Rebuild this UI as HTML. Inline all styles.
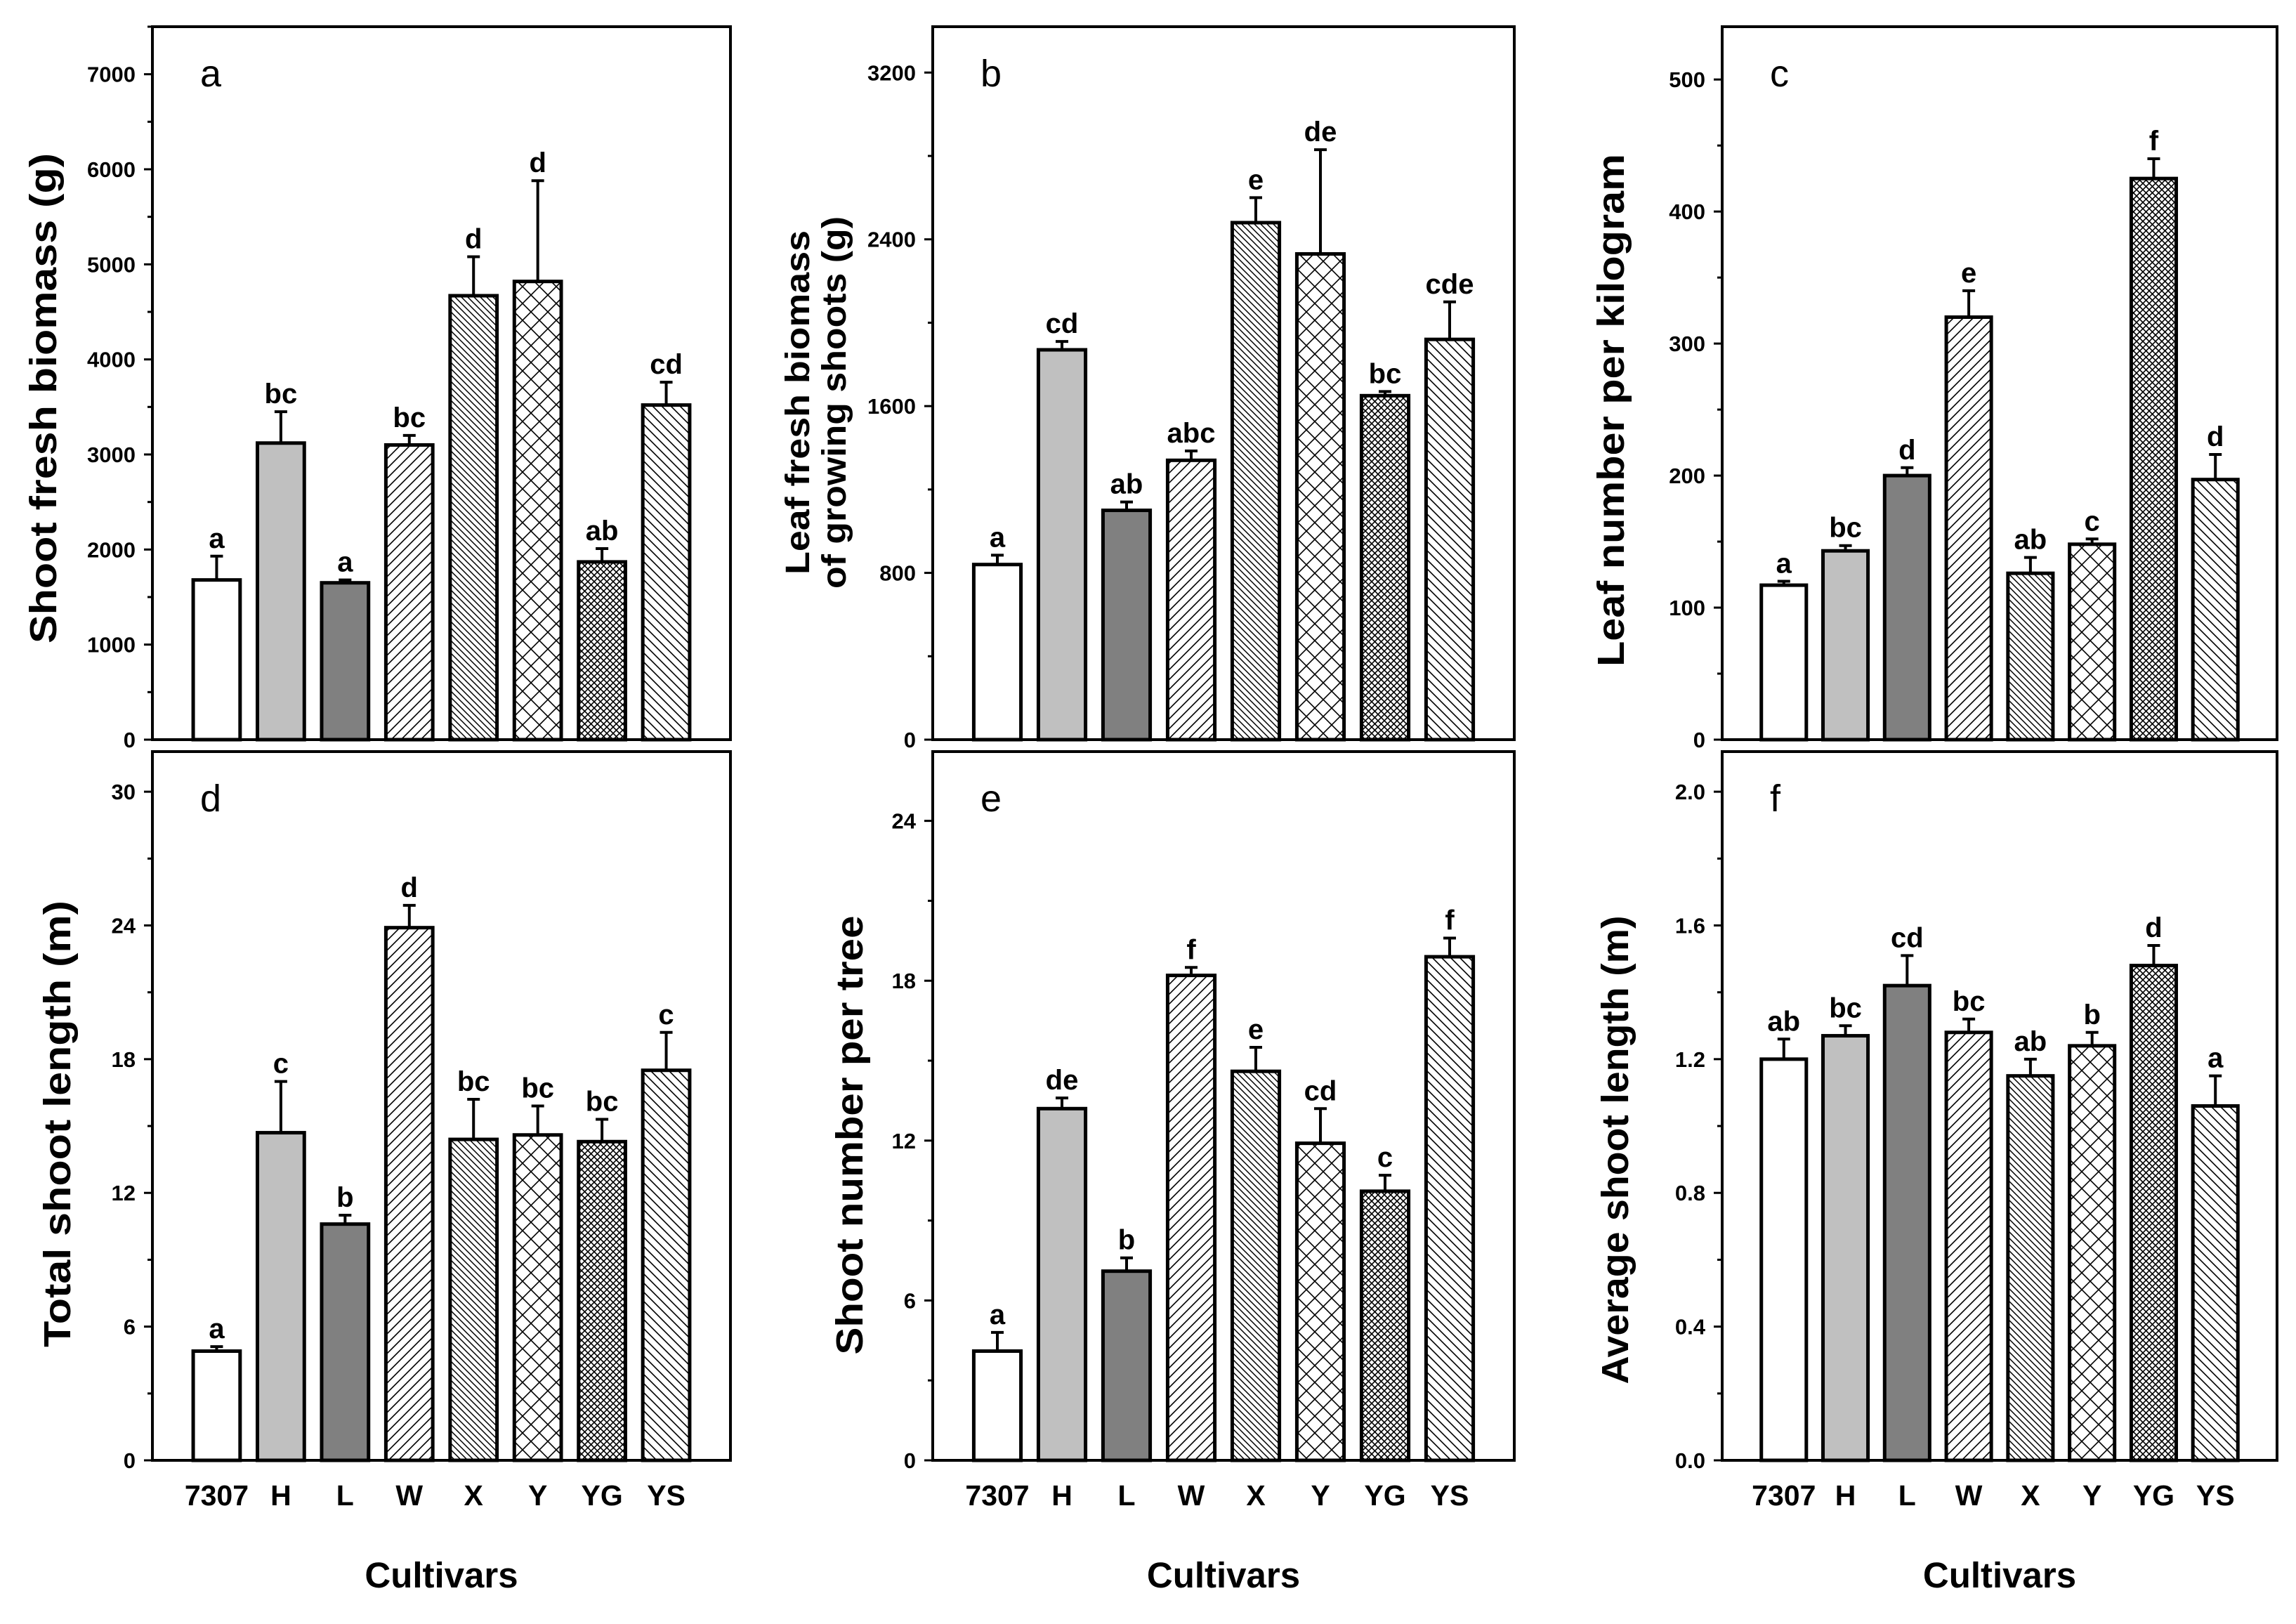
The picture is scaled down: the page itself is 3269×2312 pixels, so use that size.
<!DOCTYPE html>
<html><head><meta charset="utf-8"><style>
html,body{margin:0;padding:0;background:#fff}
svg{display:block}
text{font-family:"Liberation Sans",Arial,sans-serif}
</style></head><body>
<svg id="fig" xmlns="http://www.w3.org/2000/svg" width="3269" height="2312" viewBox="0 0 3269 2312">
<defs>
<pattern id="p-w" patternUnits="userSpaceOnUse" width="14" height="14"><rect width="14" height="14" fill="#fff"/><path d="M-2,16 L16,-2 M-2,2 L2,-2 M12,16 L16,12" stroke="#000" stroke-width="1.6"/></pattern>
<pattern id="p-x" patternUnits="userSpaceOnUse" width="9" height="9"><rect width="9" height="9" fill="#fff"/><path d="M-2,-2 L11,11 M-2,7 L2,11 M7,-2 L11,2" stroke="#000" stroke-width="1.5"/></pattern>
<pattern id="p-ys" patternUnits="userSpaceOnUse" width="13" height="13"><rect width="13" height="13" fill="#fff"/><path d="M-2,-2 L15,15 M-2,11 L2,15 M11,-2 L15,2" stroke="#000" stroke-width="1.6"/></pattern>
<pattern id="p-y" patternUnits="userSpaceOnUse" width="24" height="24"><rect width="24" height="24" fill="#fff"/><path d="M0,0 L24,24 M24,0 L0,24" stroke="#000" stroke-width="1.6"/></pattern>
<pattern id="p-yg" patternUnits="userSpaceOnUse" width="9" height="9"><rect width="9" height="9" fill="#fff"/><path d="M0,0 L9,9 M9,0 L0,9" stroke="#000" stroke-width="1.6"/></pattern>
</defs>
</svg>
<script>
const cultivars=["7307","H","L","W","X","Y","YG","YS"];
const fills=["#ffffff","#c0c0c0","#808080","url(#p-w)","url(#p-x)","url(#p-y)","url(#p-yg)","url(#p-ys)"];
const valsA=[1680,3120,1650,3100,4670,4820,1870,3520];
const errA=[250,330,30,100,410,1060,140,240];
const letA=["a","bc","a","bc","d","d","ab","cd"];
const valsB=[840,1870,1100,1340,2480,2330,1650,1920];
const errB=[45,40,40,45,120,500,20,180];
const letB=["a","cd","ab","abc","e","de","bc","cde"];
const valsC=[117,143,200,320,126,148,425,197];
const errC=[3,4,6,20,12,4,15,19];
const letC=["a","bc","d","e","ab","c","f","d"];
const valsD=[4.9,14.7,10.6,23.9,14.4,14.6,14.3,17.5];
const errD=[0.2,2.3,0.4,1.0,1.8,1.3,1.0,1.7];
const letD=["a","c","b","d","bc","bc","bc","c"];
const valsE=[4.1,13.2,7.1,18.2,14.6,11.9,10.1,18.9];
const errE=[0.7,0.4,0.5,0.3,0.9,1.3,0.6,0.7];
const letE=["a","de","b","f","e","cd","c","f"];
const valsF=[1.20,1.27,1.42,1.28,1.15,1.24,1.48,1.06];
const errF=[0.06,0.03,0.09,0.04,0.05,0.04,0.06,0.09];
const letF=["ab","bc","cd","bc","ab","b","d","a"];
const ticksA=[0,1000,2000,3000,4000,5000,6000,7000];
const ticksB=[0,800,1600,2400,3200];
const ticksC=[0,100,200,300,400,500];
const ticksD=[0,6,12,18,24,30];
const ticksE=[0,6,12,18,24];
const ticksF=["0.0","0.4","0.8","1.2","1.6","2.0"];

const svg=document.getElementById('fig');
const NS="http://www.w3.org/2000/svg";
function mk(tag,attrs,parent){const e=document.createElementNS(NS,tag);for(const k in attrs)e.setAttribute(k,attrs[k]);(parent||svg).appendChild(e);return e;}

function panel(cfg){
  const g=mk('g',{});
  
  
  const {x0,x1,y0,y1,ymax}=cfg;
  const sx=v=>x0+(x1-x0)*v/9;
  const sy=v=>y1-(y1-y0)*v/ymax;
  cfg.vals.forEach((v,i)=>{
    const cx=sx(i+1), w=(x1-x0)*0.73/9;
    const top=sy(v+cfg.err[i]);
    const eb=mk('path',{d:`M${cx},${sy(v)} L${cx},${top} M${cx-9},${top} L${cx+9},${top}`,stroke:'#000','stroke-width':4,fill:'none'},g);
    
    
    const r=mk('rect',{x:cx-w/2,y:sy(v),width:w,height:sy(0)-sy(v),fill:fills[i],stroke:'#000','stroke-width':5},g);
    
    
    const t=mk('text',{x:cx,y:top-12,'text-anchor':'middle','font-size':40,'font-weight':'bold'},g);
    t.textContent=cfg.lets[i];
    
    
  });
  const fr=mk('rect',{x:x0,y:y0,width:x1-x0,height:y1-y0,fill:'none',stroke:'#000','stroke-width':4},g);
  
  
  const tv=cfg.ticks.map(Number);
  const step=tv[1]-tv[0];
  for(let v=0; v<=ymax+1e-9; v+=step/2){
    const major=Math.abs(Math.round(v/step)*step-v)<1e-9;
    const tk=mk('line',{x1:x0,x2:x0-(major?12:7),y1:sy(v),y2:sy(v),stroke:'#000','stroke-width':3},g);
    
    
  }
  cfg.ticks.forEach(lbl=>{
    const t=mk('text',{x:x0-24,y:sy(Number(lbl))+11,'text-anchor':'end','font-size':31,'font-weight':'bold'},g);
    t.textContent=lbl;
    
    
  });
  const pl=mk('text',{x:x0+68,y:y0+85,'font-size':54},g);
  pl.textContent=cfg.id;
  
  
  cfg.title.forEach((line,k)=>{
    const t=mk('text',{x:0,y:0,'text-anchor':'middle','font-size':cfg.tsize,'font-weight':cfg.tweight,
      transform:`translate(${line.x},${cfg.ty}) rotate(-90)`,textLength:line.len,lengthAdjust:'spacingAndGlyphs'},g);
    t.textContent=line.s;
    
    
  });
  if(cfg.xlabels){
    cultivars.forEach((c,i)=>{
      const t=mk('text',{x:sx(i+1),y:2143,'text-anchor':'middle','font-size':41,'font-weight':'bold'},g);
      t.textContent=c;
      
      
    });
    const t=mk('text',{x:(x0+x1)/2,y:2260,'text-anchor':'middle','font-size':51,'font-weight':'bold'},g);
    t.textContent='Cultivars';
    
    
  }
}
const TOP0=38,TOP1=1053,BOT0=1070,BOT1=2079;
panel({id:'a',x0:217,x1:1040,y0:TOP0,y1:TOP1,ymax:7500,vals:valsA,err:errA,lets:letA,ticks:ticksA.map(String),
  title:[{s:'Shoot fresh biomass (g)',x:80,len:698}],ty:567,tsize:54,tweight:'bold'});
panel({id:'b',x0:1328,x1:2156,y0:TOP0,y1:TOP1,ymax:3420,vals:valsB,err:errB,lets:letB,ticks:ticksB.map(String),
  title:[{s:'Leaf fresh biomass',x:1152,len:490},{s:'of growing shoots (g)',x:1204,len:530}],ty:573,tsize:48,tweight:'bold'});
panel({id:'c',x0:2452,x1:3242,y0:TOP0,y1:TOP1,ymax:540,vals:valsC,err:errC,lets:letC,ticks:ticksC.map(String),
  title:[{s:'Leaf number per kilogram',x:2312,len:730}],ty:584,tsize:54,tweight:'bold'});
panel({id:'d',x0:217,x1:1040,y0:BOT0,y1:BOT1,ymax:31.8,vals:valsD,err:errD,lets:letD,ticks:ticksD.map(String),
  title:[{s:'Total shoot length (m)',x:100,len:636}],ty:1600,tsize:54,tweight:'bold',xlabels:true});
panel({id:'e',x0:1328,x1:2156,y0:BOT0,y1:BOT1,ymax:26.6,vals:valsE,err:errE,lets:letE,ticks:ticksE.map(String),
  title:[{s:'Shoot number per tree',x:1228,len:625}],ty:1616,tsize:54,tweight:'bold',xlabels:true});
panel({id:'f',x0:2452,x1:3242,y0:BOT0,y1:BOT1,ymax:2.12,vals:valsF,err:errF,lets:letF,ticks:ticksF,
  title:[{s:'Average shoot length (m)',x:2318,len:667}],ty:1637,tsize:54,tweight:'bold',xlabels:true});
</script>
</body></html>
